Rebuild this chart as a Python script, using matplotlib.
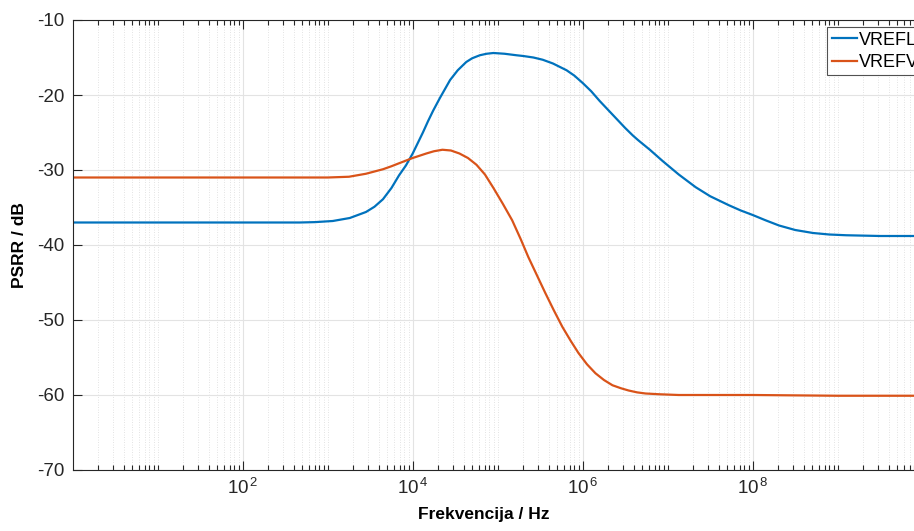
"""PSRR vs frequency for VREFL / VREFV (MATLAB-style log plot)."""

import numpy as np
import matplotlib.pyplot as plt
from matplotlib.ticker import FixedLocator, NullFormatter

plt.rcParams["font.family"] = ["Liberation Sans", "DejaVu Sans"]
plt.rcParams["mathtext.fontset"] = "custom"
plt.rcParams["mathtext.rm"] = "Liberation Sans"
plt.rcParams["mathtext.it"] = "Liberation Sans"

# log10(frequency / Hz) and PSRR in dB
vrefl_logf = [0.0, 1.0, 2.0, 2.67, 2.85, 3.06, 3.26, 3.45, 3.55, 3.65, 3.75,
              3.84, 3.92, 4.0, 4.06, 4.12, 4.18, 4.24, 4.32, 4.44, 4.53,
              4.63, 4.70, 4.79, 4.87, 4.95, 5.08, 5.22, 5.30, 5.42, 5.53,
              5.65, 5.81, 5.90, 6.0, 6.1, 6.2, 6.3, 6.4, 6.5, 6.59, 6.65,
              6.79, 6.87, 6.94, 7.13, 7.33, 7.5, 7.72, 7.86, 8.0, 8.15, 8.31,
              8.5, 8.71, 8.9, 9.1, 9.5, 9.89, 10.0]
vrefl_db = [-37.0, -37.0, -37.0, -37.0, -36.95, -36.8, -36.4, -35.6, -34.9,
            -33.9, -32.4, -30.7, -29.4, -27.8, -26.4, -25.0, -23.5, -22.1,
            -20.4, -18.0, -16.7, -15.6, -15.1, -14.7, -14.5, -14.4, -14.5,
            -14.7, -14.8, -15.0, -15.3, -15.8, -16.7, -17.4, -18.4, -19.5,
            -20.8, -22.0, -23.2, -24.4, -25.4, -26.0, -27.3, -28.1, -28.8,
            -30.6, -32.3, -33.5, -34.7, -35.4, -36.0, -36.7, -37.4, -38.0,
            -38.4, -38.6, -38.7, -38.8, -38.8, -38.8]

vrefv_logf = [0.0, 1.0, 2.0, 2.67, 2.85, 3.0, 3.25, 3.45, 3.55, 3.65, 3.75,
              3.84, 3.92, 4.0, 4.08, 4.16, 4.25, 4.35, 4.45, 4.55, 4.65,
              4.75, 4.85, 4.95, 5.06, 5.17, 5.27, 5.36, 5.46, 5.56, 5.66,
              5.76, 5.86, 5.95, 6.05, 6.15, 6.25, 6.35, 6.45, 6.54, 6.64,
              6.74, 6.9, 7.13, 8.0, 9.0, 9.89, 10.0]
vrefv_db = [-31.0, -31.0, -31.0, -31.0, -31.0, -31.0, -30.9, -30.5, -30.2,
            -29.9, -29.5, -29.1, -28.75, -28.4, -28.1, -27.8, -27.5, -27.3,
            -27.4, -27.8, -28.4, -29.3, -30.6, -32.4, -34.5, -36.7, -39.2,
            -41.6, -44.0, -46.4, -48.7, -50.9, -52.8, -54.4, -55.9, -57.1,
            -58.0, -58.7, -59.1, -59.4, -59.65, -59.8, -59.9, -60.0, -60.0,
            -60.1, -60.1, -60.1]

labels = ["VREFL", "VREFV"]
colors = ["#0072BD", "#D95319"]

fig = plt.figure(figsize=(9.14, 5.31), dpi=100)
# axes runs a bit past the right edge of the picture, like the cropped original
ax = fig.add_axes([72.7 / 914, 61 / 531, 850 / 914, 450 / 531])

ax.plot(10 ** np.array(vrefl_logf), vrefl_db, color=colors[0], lw=1.6, label=labels[0])
ax.plot(10 ** np.array(vrefv_logf), vrefv_db, color=colors[1], lw=1.6, label=labels[1])

ax.set_xscale("log")
ax.set_xlim(1, 1e10)
ax.set_ylim(-70, -10)

major = [1e2, 1e4, 1e6, 1e8]
minor = [m * 10.0 ** d for d in range(0, 10) for m in range(1, 10)
         if not (m == 1 and d % 2 == 0)]
ax.xaxis.set_major_locator(FixedLocator(major))
ax.xaxis.set_minor_locator(FixedLocator(minor))
ax.xaxis.set_minor_formatter(NullFormatter())
ax.set_xticklabels([r"$10^{\,%d}$" % e for e in (2, 4, 6, 8)])
ax.set_yticks(np.arange(-70, -9, 10))
ax.set_yticklabels([str(v) for v in range(-70, -9, 10)])

ax.grid(which="major", color="#e3e3e3", lw=0.8, ls="-")
ax.grid(which="minor", axis="x", color="#d9d9d9", lw=0.6, ls=(0, (1, 2)))
ax.set_axisbelow(True)

ax.tick_params(which="both", direction="in", top=True, right=True,
               colors="#262626", labelsize=13.5, width=0.8)
ax.tick_params(which="major", length=6.5, pad=6)
ax.tick_params(which="minor", length=3.6)
for s in ax.spines.values():
    s.set_color("#262626")
    s.set_linewidth(0.8)

ax.set_xlabel("Frekvencija / Hz", fontsize=12.5, fontweight="bold")
ax.set_ylabel("PSRR / dB", fontsize=12.5, fontweight="bold")
ax.xaxis.set_label_coords(0.483, -0.082)
ax.yaxis.set_label_coords(-0.054, 0.5)

leg = ax.legend(loc="upper left", bbox_to_anchor=(827 / 914, 1 - 27 / 531),
                bbox_transform=fig.transFigure, borderaxespad=0, fontsize=13,
                frameon=True, fancybox=False, handlelength=1.4,
                handletextpad=0.12, borderpad=0.25, labelspacing=0.3)
leg.get_frame().set_edgecolor("#262626")
leg.get_frame().set_linewidth(0.8)

plt.savefig("out.png", dpi=100)
